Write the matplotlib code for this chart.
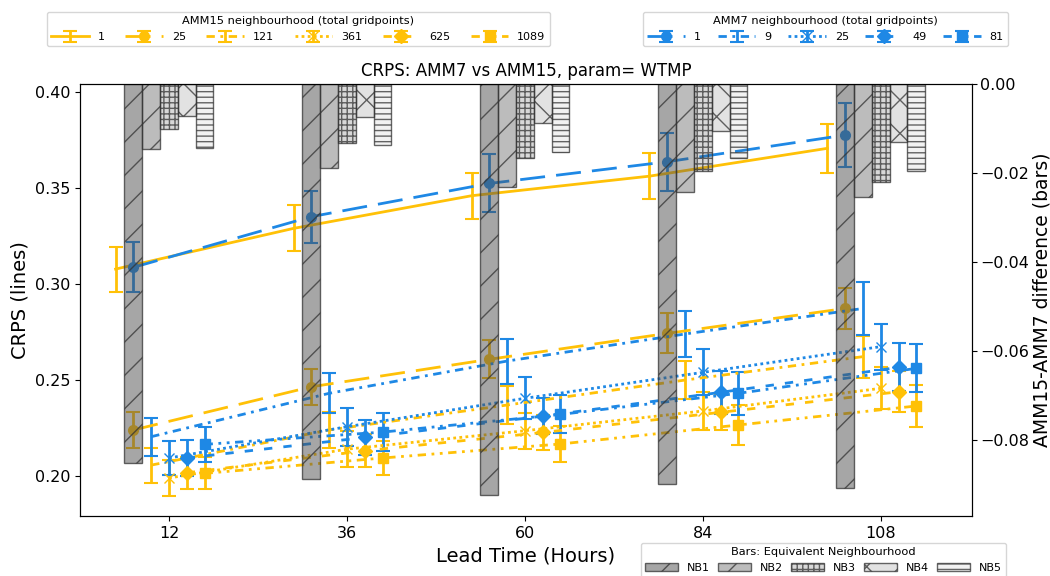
import matplotlib
matplotlib.use("Agg")
import matplotlib.pyplot as plt
import numpy as np

lead_times = [12, 36, 60, 84, 108]
xticks = [12, 36, 60, 84, 108]

amm15_labels = ["1", "25", "121", "361", "625", "1089"]
amm15_n1 = [0.3078, 0.3290, 0.3460, 0.3562, 0.3707]
amm15_n25 = [0.2240, 0.2465, 0.2608, 0.2743, 0.2873]
amm15_n121 = [0.2057, 0.2240, 0.2370, 0.2500, 0.2622]
amm15_n361 = [0.1990, 0.2140, 0.2236, 0.2339, 0.2457]
amm15_n625 = [0.2017, 0.2132, 0.2227, 0.2332, 0.2439]
amm15_n1089 = [0.2014, 0.2094, 0.2167, 0.2266, 0.2365]

amm15_e1 = [0.0117, 0.0120, 0.0120, 0.0120, 0.0129]
amm15_e25 = [0.0094, 0.0094, 0.0099, 0.0104, 0.0107]
amm15_e121 = [0.0091, 0.0094, 0.0099, 0.0099, 0.0109]
amm15_e361 = [0.0094, 0.0094, 0.0094, 0.0099, 0.0109]
amm15_e625 = [0.0083, 0.0086, 0.0091, 0.0094, 0.0107]
amm15_e1089 = [0.0083, 0.0089, 0.0094, 0.0102, 0.0109]

amm7_labels = ["1", "9", "25", "49", "81"]
amm7_n1 = [0.3087, 0.3351, 0.3524, 0.3637, 0.3776]
amm7_n9 = [0.2205, 0.2431, 0.2599, 0.2740, 0.2873]
amm7_n25 = [0.2094, 0.2257, 0.2405, 0.2540, 0.2674]
amm7_n49 = [0.2094, 0.2201, 0.2312, 0.2436, 0.2566]
amm7_n81 = [0.2165, 0.2229, 0.2321, 0.2431, 0.2561]

amm7_e1 = [0.0130, 0.0135, 0.0151, 0.0151, 0.0165]
amm7_e9 = [0.0099, 0.0104, 0.0117, 0.0120, 0.0140]
amm7_e25 = [0.0091, 0.0099, 0.0109, 0.0120, 0.0120]
amm7_e49 = [0.0094, 0.0091, 0.0094, 0.0113, 0.0125]
amm7_e81 = [0.0091, 0.0099, 0.0099, 0.0113, 0.0125]

bar_labels = ["NB1", "NB2", "NB3", "NB4", "NB5"]
nb1_diff = [-0.0852, -0.0888, -0.0924, -0.0899, -0.0908]
nb2_diff = [-0.0146, -0.0189, -0.0231, -0.0243, -0.0254]
nb3_diff = [-0.0101, -0.0133, -0.0166, -0.0195, -0.0220]
nb4_diff = [-0.0072, -0.0074, -0.0088, -0.0106, -0.0130]
nb5_diff = [-0.0144, -0.0137, -0.0153, -0.0166, -0.0196]

YELLOW = "#FFC107"
BLUE = "#1E88E5"
step = 2.4

amm15_vals = [amm15_n1, amm15_n25, amm15_n121, amm15_n361, amm15_n625, amm15_n1089]
amm15_errs = [amm15_e1, amm15_e25, amm15_e121, amm15_e361, amm15_e625, amm15_e1089]
amm7_vals = [amm7_n1, amm7_n9, amm7_n25, amm7_n49, amm7_n81]
amm7_errs = [amm7_e1, amm7_e9, amm7_e25, amm7_e49, amm7_e81]
bar_vals = [nb1_diff, nb2_diff, nb3_diff, nb4_diff, nb5_diff]

# style per equivalent neighbourhood (NB1..NB5)
nb_ls = [(0, (9, 4)), (0, (3, 2, 1, 2)), (0, (1, 1.2)), (0, (3, 4)), (0, (3, 2, 1, 2, 1, 2))]
nb_mk = ["o", None, "x", "D", "s"]

fig = plt.figure(figsize=(10.5, 5.76), dpi=100)
ax = fig.add_axes([80/1050, 1-516/576, 892/1050, 432/576])
ax2 = ax.twinx()

lt = np.array(lead_times, dtype=float)

h15 = []
for i, (v, e) in enumerate(zip(amm15_vals, amm15_errs)):
    off = (i - 3) * step
    if i == 0:
        ls, mk = "-", None
    else:
        ls, mk = nb_ls[i-1], nb_mk[i-1]
    h = ax.errorbar(lt + off, v, yerr=e, color=YELLOW, linestyle=ls, marker=mk,
                    markersize=7, lw=2, capsize=5, elinewidth=2, capthick=1.5,
                    label=amm15_labels[i])
    h15.append(h)

h7 = []
for j, (v, e) in enumerate(zip(amm7_vals, amm7_errs)):
    off = (j - 2) * step
    ls, mk = nb_ls[j], nb_mk[j]
    h = ax.errorbar(lt + off, v, yerr=e, color=BLUE, linestyle=ls, marker=mk,
                    markersize=7, lw=2, capsize=5, elinewidth=2, capthick=1.5,
                    label=amm7_labels[j])
    h7.append(h)

hatches = ["/", "/", "+++", "x", "---"]
face_alpha = [0.5, 0.38, 0.22, 0.16, 0.07]
hb = []
for k, v in enumerate(bar_vals):
    off = (k - 2) * step
    fc = (0.31, 0.31, 0.31, face_alpha[k])
    b = ax2.bar(lt + off, v, width=step, facecolor=fc,
                edgecolor=(0.2, 0.2, 0.2, 0.75), hatch=hatches[k], lw=1,
                label=bar_labels[k])
    hb.append(b)

ax.set_xlim(0, 120.3)
ax.set_ylim(0.1792, 0.4042)
ax2.set_ylim(-0.0971, 0.0)
ax.set_xticks(xticks)
ax.set_yticks([0.20, 0.25, 0.30, 0.35, 0.40])
ax2.set_yticks([0.00, -0.02, -0.04, -0.06, -0.08])
ax.tick_params(labelsize=11.5)
ax2.tick_params(labelsize=11.5, pad=2.5)
ax.set_xlabel("Lead Time (Hours)", fontsize=14)
ax.set_ylabel("CRPS (lines)", fontsize=14)
ax2.set_ylabel("AMM15-AMM7 difference (bars)", fontsize=13.5, labelpad=2)
ax.set_title("CRPS: AMM7 vs AMM15, param= WTMP", fontsize=12)

top = 1 - 12/576
fig.legend(handles=h15, labels=amm15_labels, title="AMM15 neighbourhood (total gridpoints)",
           ncol=6, loc="upper left", mode="expand",
           bbox_to_anchor=(47/1050, 0.5, 503/1050, top - 0.5), borderaxespad=0,
           fontsize=8, title_fontsize=8.2, handlelength=3.4, handletextpad=0.8,
           columnspacing=1.0)
fig.legend(handles=h7, labels=amm7_labels, title="AMM7 neighbourhood (total gridpoints)",
           ncol=5, loc="upper left", mode="expand",
           bbox_to_anchor=(643/1050, 0.5, 365/1050, top - 0.5), borderaxespad=0,
           fontsize=8, title_fontsize=8.2, handlelength=3.4, handletextpad=0.8,
           columnspacing=1.0)
fig.legend(handles=hb, labels=bar_labels, title="Bars: Equivalent Neighbourhood",
           ncol=5, loc="upper left", mode="expand",
           bbox_to_anchor=(641/1050, 0.0, 365/1050, 1 - 543/576), borderaxespad=0,
           fontsize=8, title_fontsize=8.2, handlelength=2.9, handletextpad=0.8,
           columnspacing=1.0)

fig.savefig("out.png", dpi=100)
